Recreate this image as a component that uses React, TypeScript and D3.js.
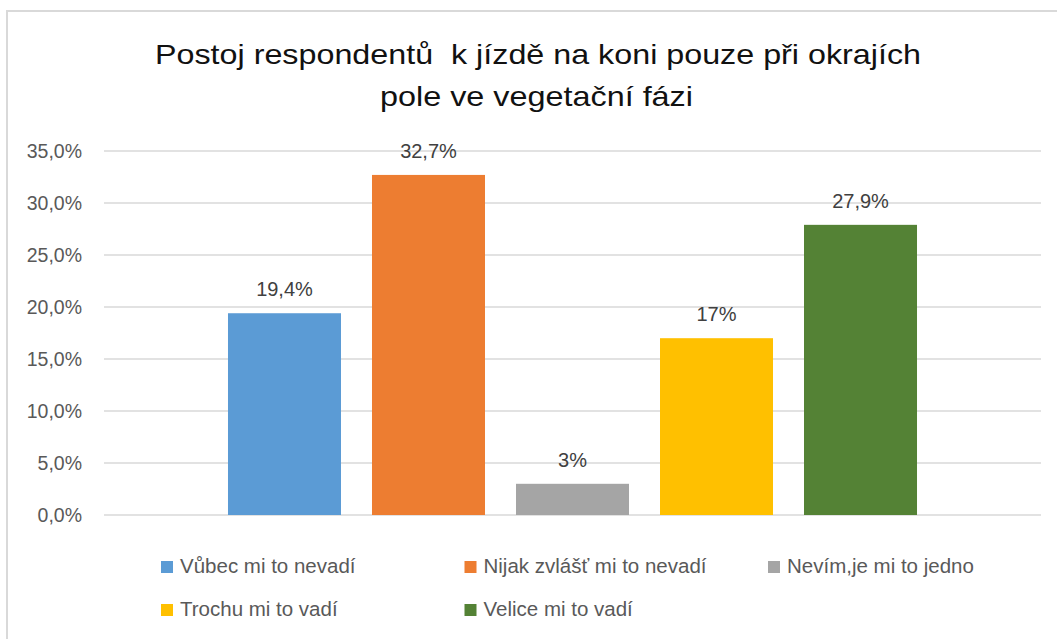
import React from "react";
import * as d3 from "d3";

const seriesNames = [
  "Vůbec mi to nevadí",
  "Nijak zvlášť mi to nevadí",
  "Nevím,je mi to jedno",
  "Trochu mi to vadí",
  "Velice mi to vadí",
];
const seriesValues = [19.4, 32.7, 3, 17, 27.9];
const valueLabels = ["19,4%", "32,7%", "3%", "17%", "27,9%"];
const seriesColors = ["#5B9BD5", "#ED7D31", "#A5A5A5", "#FFC000", "#548235"];
const yTicks = [0, 5, 10, 15, 20, 25, 30, 35];
const titleLines = [
  "Postoj respondentů  k jízdě na koni pouze při okrajích",
  "pole ve vegetační fázi",
];

const W = 1057;
const H = 639;
const FONT = "'Liberation Sans', Arial, sans-serif";

export default function App() {
  const plotLeft = 104;
  const plotRight = 1041;
  const y = d3.scaleLinear().domain([0, 35]).range([515, 151]);
  const x = d3
    .scaleBand<string>()
    .domain(seriesNames)
    .range([plotLeft, plotRight])
    .paddingInner(31 / 144)
    .paddingOuter(0.861);
  const fmt = (v: number) => d3.format(".1f")(v).replace(".", ",") + "%";

  const legendCols = 3;
  const legendX0 = 161;
  const legendColW = 303.5;
  const legendY0 = 573;
  const legendRowH = 43;
  const titleWidths = [766, 313];
  const titleCx = [538, 536.5];

  return (
    <svg
      width={W}
      height={H}
      style={{ position: "absolute", left: 0, top: 0, background: "#fff" }}
      fontFamily={FONT}
    >
      <rect x={0} y={0} width={W} height={H} fill="#fff" />
      <path d={`M7,${H + 5} V11 H${W + 5}`} fill="none" stroke="#d9d9d9" strokeWidth={2} />

      {titleLines.map((t, i) => (
        <text
          key={i}
          x={titleCx[i]}
          y={64 + i * 42}
          textAnchor="middle"
          fontSize={28.5}
          fill="#111"
          textLength={titleWidths[i]}
          lengthAdjust="spacingAndGlyphs"
          style={{ whiteSpace: "pre" }}
        >
          {t}
        </text>
      ))}

      {yTicks.map((t) => (
        <g key={t}>
          <line
            x1={plotLeft}
            x2={plotRight}
            y1={y(t)}
            y2={y(t)}
            stroke="#d9d9d9"
            strokeWidth={1.5}
          />
          <text
            x={82}
            y={y(t) + 7}
            textAnchor="end"
            fontSize={19.5}
            fill="#595959"
          >
            {fmt(t)}
          </text>
        </g>
      ))}

      {seriesNames.map((s, i) => (
        <g key={s}>
          <rect
            x={x(s)}
            y={y(seriesValues[i])}
            width={x.bandwidth()}
            height={y(0) - y(seriesValues[i])}
            fill={seriesColors[i]}
          />
          <text
            x={(x(s) as number) + x.bandwidth() / 2}
            y={y(seriesValues[i]) - 17}
            textAnchor="middle"
            fontSize={20}
            fill="#404040"
          >
            {valueLabels[i]}
          </text>
        </g>
      ))}

      {seriesNames.map((s, i) => {
        const col = i % legendCols;
        const row = Math.floor(i / legendCols);
        const lx = legendX0 + col * legendColW;
        const ly = legendY0 + row * legendRowH;
        return (
          <g key={s}>
            <rect x={lx} y={ly - 12} width={12} height={12} fill={seriesColors[i]} />
            <text x={lx + 19} y={ly} fontSize={20.5} fill="#595959">
              {s}
            </text>
          </g>
        );
      })}
    </svg>
  );
}
